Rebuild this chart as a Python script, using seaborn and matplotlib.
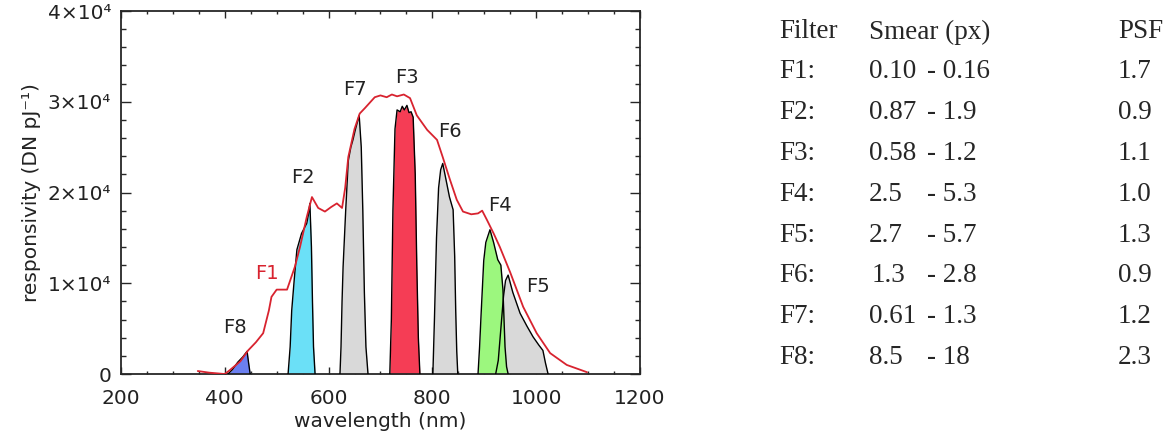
import numpy as np
import matplotlib
matplotlib.use("Agg")
import matplotlib.pyplot as plt
from matplotlib.ticker import MultipleLocator, FuncFormatter
import seaborn as sns

# total responsivity (F1, red curve)
f1_nm = [348, 370, 400, 410, 430, 445, 460, 474, 485, 490, 500, 520, 535, 545, 558, 568,
         580, 593, 605, 616, 626, 632, 638, 650, 660, 670, 689, 700, 712, 722, 732, 745,
         757, 770, 790, 809, 820, 834, 847, 859, 875, 888, 896, 905, 918, 930, 950, 975,
         1001, 1027, 1059, 1098]
f1_val = [330, 150, 0, 440, 1400, 2600, 3500, 4500, 7000, 8500, 9300, 9300, 11800, 14000, 17300, 19500,
          18300, 17900, 18400, 18800, 18300, 20500, 23900, 27000, 28700, 29300, 30500, 30700, 30500, 30800, 30600, 30800,
          30400, 28500, 26900, 25800, 23900, 21400, 19200, 17900, 17600, 17700, 18000, 17000, 15500, 14000, 11200, 7400,
          4500, 2300, 1000, 200]

# individual filter curves
f8_nm = [406, 415, 425, 435, 443, 446, 449]
f8_val = [0, 500, 1300, 1900, 2500, 1200, 0]
f2_nm = [522, 526, 529, 534, 539, 548, 558, 561, 564, 567, 569, 571, 574]
f2_val = [0, 3000, 7000, 10500, 13700, 15500, 16600, 17500, 18800, 14000, 8000, 3000, 0]
f7_nm = [622, 624, 626, 628, 633, 638, 643, 647, 652, 659, 663, 666, 669, 672, 676]
f7_val = [0, 3000, 8000, 11800, 18000, 23500, 25000, 25800, 27000, 28500, 25000, 18000, 9000, 3000, 0]
f3_nm = [718, 721, 724, 728, 732, 738, 742, 746, 751, 755, 759, 763, 767, 770, 773, 776]
f3_val = [0, 6000, 18000, 27000, 29100, 28900, 29500, 29100, 29600, 28800, 28900, 28300, 22000, 12000, 4000, 0]
f6_nm = [801, 804, 808, 812, 816, 820, 826, 833, 840, 843, 845, 847, 849]
f6_val = [0, 6000, 15000, 20500, 22500, 23200, 21500, 19500, 18100, 13000, 7000, 2500, 0]
f4_nm = [888, 891, 894, 899, 903, 911, 918, 926, 932, 936, 940, 943, 946]
f4_val = [0, 3000, 6700, 12500, 14500, 15900, 14500, 12600, 12000, 9300, 3000, 800, 0]
f5_nm = [922, 927, 932, 937, 941, 946, 955, 969, 982, 994, 1005, 1013, 1018, 1023]
f5_val = [0, 1500, 5000, 8500, 10300, 10900, 9000, 6700, 5300, 4100, 3200, 2600, 1200, 0]

label_names = ["F8", "F2", "F7", "F3", "F6", "F4", "F5"]
label_nm = [420, 551, 651, 751, 834, 930, 1003]
label_val = [5100, 21600, 31300, 32700, 26700, 18600, 9600]

# table on the right
tab_filters = ["F1:", "F2:", "F3:", "F4:", "F5:", "F6:", "F7:", "F8:"]
smear_low = ["0.10", "0.87", "0.58", "2.5", "2.7", "1.3", "0.61", "8.5"]
smear_high = ["0.16", "1.9", "1.2", "5.3", "5.7", "2.8", "1.3", "18"]
psf = ["1.7", "0.9", "1.1", "1.0", "1.3", "0.9", "1.2", "2.3"]

sns.set_style("ticks")
plt.rcParams['font.family'] = ['DejaVu Sans']

fig = plt.figure(figsize=(11.71, 4.42), dpi=100)
ax = fig.add_axes([0.1033, 0.1538, 0.4432, 0.8213])

filters = [
    (f5_nm, f5_val, "#d9d9d9"),
    (f4_nm, f4_val, "#9cf77e"),
    (f8_nm, f8_val, "#6b7ff0"),
    (f2_nm, f2_val, "#6be0f7"),
    (f7_nm, f7_val, "#d9d9d9"),
    (f3_nm, f3_val, "#f53d55"),
    (f6_nm, f6_val, "#d9d9d9"),
]
for nm, val, col in filters:
    ax.fill_between(nm, 0, val, color=col, lw=0, zorder=2)
for nm, val, col in filters:
    sns.lineplot(x=nm, y=val, ax=ax, color="black", lw=1.0, estimator=None, sort=False, zorder=3)

sns.lineplot(x=f1_nm, y=f1_val, ax=ax, color="#d8232f", lw=1.3, estimator=None, sort=False, zorder=4)

for name, x, y in zip(label_names, label_nm, label_val):
    ax.text(x, y, name, ha="center", va="center", fontsize=14, color="#222222")
ax.text(481, 11100, "F1", ha="center", va="center", fontsize=14, color="#d8232f")

ax.set_xlim(200, 1200)
ax.set_ylim(0, 40000)
ax.xaxis.set_major_locator(MultipleLocator(200))
ax.xaxis.set_minor_locator(MultipleLocator(50))
ax.yaxis.set_major_locator(MultipleLocator(10000))
ax.yaxis.set_minor_locator(MultipleLocator(2000))
ax.yaxis.set_major_formatter(FuncFormatter(
    lambda v, p: "0" if v == 0 else f"{int(round(v / 10000))}\u00d710\u2074"))
ax.tick_params(axis="x", which="major", direction="in", length=5, width=1, top=True,
               labelsize=14.5, pad=11, labelcolor="#222222")
ax.tick_params(axis="x", which="minor", direction="in", length=2.5, width=1, top=True)
ax.tick_params(axis="y", which="major", direction="in", length=7, width=1, right=True,
               labelsize=14.5, pad=7, labelcolor="#222222")
ax.tick_params(axis="y", which="minor", direction="in", length=3.8, width=1, right=True)
for s in ax.spines.values():
    s.set_visible(True)
    s.set_linewidth(1.3)
ax.set_xlabel("wavelength (nm)", fontsize=14.5, color="#222222")
ax.set_ylabel("responsivity (DN pJ\u207b\u00b9)", fontsize=14.5, color="#222222")
ax.xaxis.set_label_coords(0.5, -0.105)
ax.yaxis.set_label_coords(-0.155, 0.5)

# table text
serif = ["Liberation Serif", "DejaVu Serif"]
fs = 19.5
hdr_y = 32
fig.text(779 / 1171, 1 - hdr_y / 442, "Filter", family=serif, fontsize=fs, va="center")
fig.text(869 / 1171, 1 - hdr_y / 442, "Smear (px)", family=serif, fontsize=fs, va="center")
fig.text(1118 / 1171, 1 - hdr_y / 442, "PSF", family=serif, fontsize=fs, va="center")
for i, (f, lo, hi, p) in enumerate(zip(tab_filters, smear_low, smear_high, psf)):
    y = 1 - (72 + i * 40.8) / 442
    fig.text(779 / 1171, y, f, family=serif, fontsize=fs, va="center")
    fig.text((869 + (3 if lo == "1.3" else 0)) / 1171, y, lo, family=serif, fontsize=fs, va="center")
    fig.text(927 / 1171, y, "- " + hi, family=serif, fontsize=fs, va="center")
    fig.text(1118 / 1171, y, p, family=serif, fontsize=fs, va="center")

fig.savefig("out.png", dpi=100)
